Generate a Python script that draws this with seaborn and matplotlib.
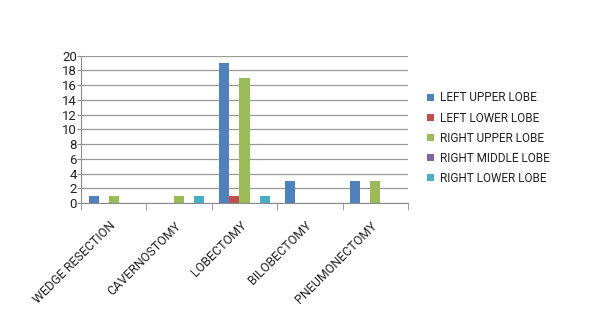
import matplotlib
matplotlib.use("Agg")
import matplotlib.pyplot as plt
import seaborn as sns
import pandas as pd
import numpy as np

categories = ["WEDGE RESECTION", "CAVERNOSTOMY", "LOBECTOMY", "BILOBECTOMY", "PNEUMONECTOMY"]
series_names = ["LEFT UPPER LOBE", "LEFT LOWER LOBE", "RIGHT UPPER LOBE", "RIGHT MIDDLE LOBE", "RIGHT LOWER LOBE"]
left_upper = [1, 0, 19, 3, 3]
left_lower = [0, 0, 1, 0, 0]
right_upper = [1, 1, 17, 0, 3]
right_middle = [0, 0, 0, 0, 0]
right_lower = [0, 1, 1, 0, 0]
colors = ["#4F81BD", "#C0504D", "#9BBB59", "#8064A2", "#4BACC6"]

sns.set_style("white")
plt.rcParams['font.family'] = ['Roboto', 'DejaVu Sans']

rows = []
for name, vals in zip(series_names, [left_upper, left_lower, right_upper, right_middle, right_lower]):
    for c, v in zip(categories, vals):
        rows.append({"cat": c, "series": name, "value": v})
df = pd.DataFrame(rows)

fig = plt.figure(figsize=(6.11, 3.19), dpi=100)
ax = fig.add_axes([81/611, 1-203/319, (408-81)/611, (203-55.7)/319])
sns.barplot(data=df, x="cat", y="value", hue="series", order=categories,
            hue_order=series_names, palette=colors, width=0.765, ax=ax,
            saturation=1, edgecolor="none", legend=True)

ax.set_ylim(0, 20)
ax.set_xlim(-0.5, len(categories) - 0.5)
ax.set_yticks(np.arange(0, 21, 2))
ax.yaxis.grid(True, color="#999999", linewidth=0.9)
ax.set_axisbelow(True)
ax.set_xlabel("")
ax.set_ylabel("")
for s in ["top", "right"]:
    ax.spines[s].set_visible(False)
ax.spines["left"].set_color("#8C8C8C")
ax.spines["bottom"].set_color("#8C8C8C")
ax.tick_params(axis="y", labelsize=9.5, length=3, color="#8C8C8C", left=True, pad=0, labelcolor="#222222")
# category ticks at boundaries
ax.set_xticks(np.arange(len(categories)), labels=categories)
ax.tick_params(axis="x", which="major", length=0, labelsize=9, pad=15, labelcolor="#222222")
ax.set_xticks(np.arange(len(categories)+1) - 0.5, minor=True)
ax.tick_params(axis="x", which="minor", length=5, color="#8C8C8C", bottom=True)
for lbl in ax.get_xticklabels():
    lbl.set_rotation(45)
    lbl.set_ha("right")
    lbl.set_va("center")
    lbl.set_rotation_mode("anchor")

leg = ax.legend(loc="upper left", bbox_to_anchor=(1.0 + 14/327, 1 - 31/147), frameon=False,
                fontsize=8.5, handlelength=0.6, handleheight=0.6, labelspacing=0.6,
                handletextpad=0.5, borderaxespad=0)
for t in leg.get_texts():
    t.set_color("#222222")
fig.savefig("out.png", dpi=100)
